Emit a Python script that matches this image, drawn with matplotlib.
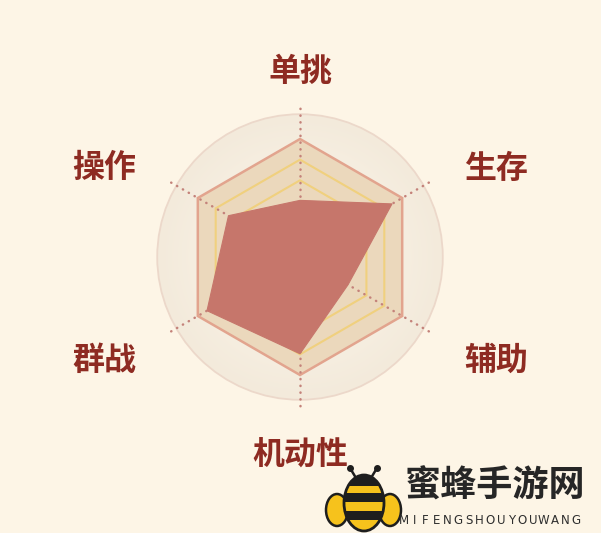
import numpy as np
import matplotlib.pyplot as plt
from matplotlib.patches import Circle, Polygon, Ellipse, Rectangle
from matplotlib.colors import LinearSegmentedColormap

plt.rcParams['font.family'] = ['Noto Sans CJK SC', 'DejaVu Sans']

# radar data (clockwise from top)
labels = ['单挑', '生存', '辅助', '机动性', '群战', '操作']
values = [48, 90, 47, 82, 91, 70]
vmax = 100
ring_levels = [65, 82.5, 100]

# layout in pixels
W, H = 601, 533
cx, cy, R = 300, 257, 118

fig = plt.figure(figsize=(W / 100, H / 100), dpi=100)
fig.patch.set_facecolor('#FDF5E6')
ax = fig.add_axes([0, 0, 1, 1])
ax.set_xlim(-cx / R, (W - cx) / R)
ax.set_ylim(-(H - cy) / R, cy / R)
ax.set_aspect('equal')
ax.axis('off')

n = len(labels)
ang = np.pi / 2 - np.arange(n) * 2 * np.pi / n


def ring(level):
    r = level / vmax
    return np.column_stack([r * np.cos(ang), r * np.sin(ang)])


# soft round background with radial shading
rc = 1.21
g = np.linspace(-rc, rc, 300)
gx, gy = np.meshgrid(g, g)
rr = np.sqrt(gx ** 2 + gy ** 2) / rc
cmap = LinearSegmentedColormap.from_list('bg', ['#FCF7EC', '#F8F1E4', '#F3EADB'])
im = ax.imshow(rr, extent=(-rc, rc, -rc, rc), cmap=cmap, vmin=0, vmax=1,
               origin='lower', zorder=1)
clip = Circle((0, 0), rc, transform=ax.transData)
im.set_clip_path(clip)
ax.add_patch(Circle((0, 0), rc, fc='none', ec='#ECD8CA', lw=1.3, zorder=2))

# hexagon grid
ax.add_patch(Polygon(ring(vmax), closed=True, fc='#EBD8BC', ec='none', zorder=2))
for lv in ring_levels[:-1]:
    ax.add_patch(Polygon(ring(lv), closed=True, fc='none', ec='#F0D07E', lw=1.5, zorder=3))
ax.add_patch(Polygon(ring(vmax), closed=True, fc='none', ec='#E2A48E', lw=1.8, zorder=3))

# dotted spokes
for a in ang:
    ax.plot([0, 1.29 * np.cos(a)], [0, 1.29 * np.sin(a)], color='#C4827A',
            lw=1.8, linestyle=(0, (0.1, 2.6)), dash_capstyle='round', zorder=4)

# data polygon
vals = np.array(values) / vmax
pts = np.column_stack([vals * np.cos(ang), vals * np.sin(ang)])
ax.add_patch(Polygon(pts, closed=True, fc='#C6766B', ec='#C6766B', lw=0.8, zorder=5))

# labels
for lab, a in zip(labels, ang):
    c, s = np.cos(a), np.sin(a)
    if abs(c) < 0.1:
        lx, ly = 0, 1.57 if s > 0 else -1.68
    else:
        lx = 1.66 * np.sign(c)
        ly = 0.75 if s > 0 else -0.88
    ax.text(lx, ly, lab, ha='center', va='center', fontsize=23,
            color='#8E2B22', fontweight='bold')

# watermark (pixel coordinates)
wm = fig.add_axes([0, 0, 1, 1], zorder=10)
wm.set_xlim(0, W)
wm.set_ylim(H, 0)
wm.axis('off')
wm.patch.set_alpha(0)

yellow = '#F6C21C'
wm.add_patch(Ellipse((337, 510), 22, 32, fc=yellow, ec='#1E1E1E', lw=1.8))
wm.add_patch(Ellipse((390, 510), 22, 32, fc=yellow, ec='#1E1E1E', lw=1.8))
body = Ellipse((364, 503), 40, 56, fc=yellow, ec='#1E1E1E', lw=2)
wm.add_patch(body)
for y0, h in [(474, 12), (493, 9), (511, 9)]:
    band = Rectangle((340, y0), 50, h, fc='#1E1E1E', ec='none')
    wm.add_patch(band)
    band.set_clip_path(body)
for x0, x1 in [(356, 350), (371, 377)]:
    wm.plot([x0, x1], [478, 468], color='#1E1E1E', lw=1.8)
    wm.plot([x1], [468], 'o', color='#1E1E1E', ms=4)

wm.text(495, 486, '蜜蜂手游网', ha='center', va='center', fontsize=26,
        fontweight='bold', color='#262626')
brand = 'MIFENGSHOUYOUWANG'
for ch, x in zip(brand, np.linspace(404, 576, len(brand))):
    wm.text(x, 520, ch, ha='center', va='center', fontsize=8.5,
            color='#2E2E2E', family='DejaVu Sans')

fig.savefig('out.png', dpi=100, facecolor=fig.get_facecolor())
